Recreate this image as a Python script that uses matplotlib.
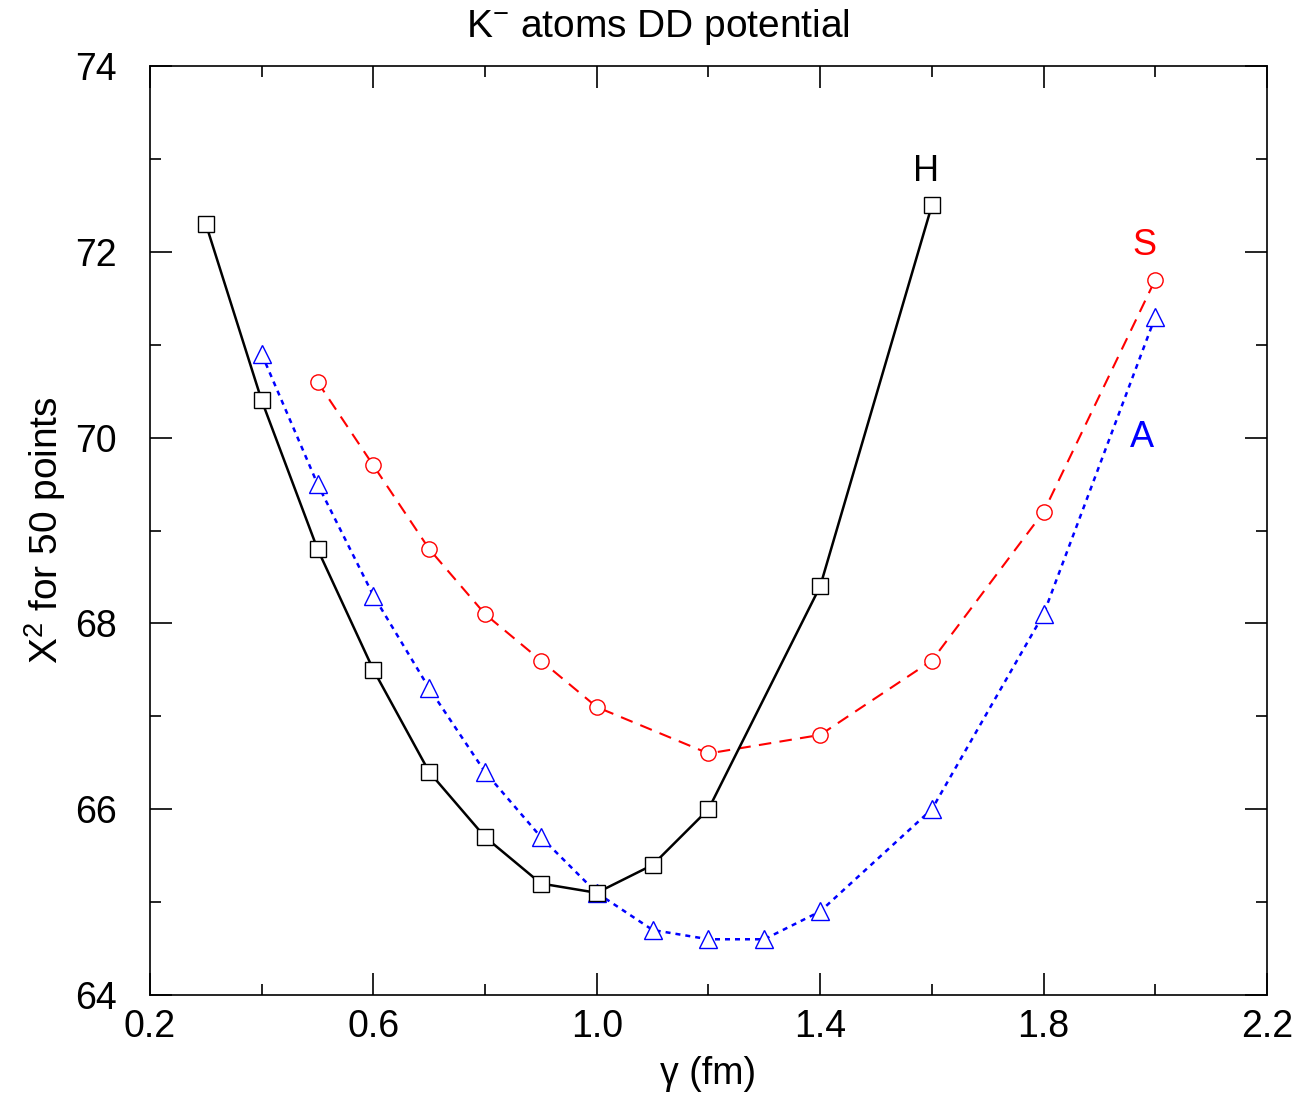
"""K- atoms DD potential: chi^2 versus gamma."""

import matplotlib

matplotlib.use("Agg")
import matplotlib.pyplot as plt
from matplotlib.ticker import FixedLocator, MultipleLocator

plt.rcParams["font.family"] = ["Liberation Sans", "DejaVu Sans"]
plt.rcParams["mathtext.fontset"] = "custom"
plt.rcParams["mathtext.rm"] = "Liberation Sans"
plt.rcParams["mathtext.it"] = "Liberation Sans:italic"

# H (black, solid, squares)
h_x = [0.3, 0.4, 0.5, 0.6, 0.7, 0.8, 0.9, 1.0, 1.1, 1.2, 1.4, 1.6]
h_y = [72.3, 70.4, 68.8, 67.5, 66.4, 65.7, 65.2, 65.1, 65.4, 66.0, 68.4, 72.5]

# S (red, dashed, circles)
s_x = [0.5, 0.6, 0.7, 0.8, 0.9, 1.0, 1.2, 1.4, 1.6, 1.8, 2.0]
s_y = [70.6, 69.7, 68.8, 68.1, 67.6, 67.1, 66.6, 66.8, 67.6, 69.2, 71.7]

# A (blue, dotted, triangles)
a_x = [0.4, 0.5, 0.6, 0.7, 0.8, 0.9, 1.0, 1.1, 1.2, 1.3, 1.4, 1.6, 1.8, 2.0]
a_y = [70.9, 69.5, 68.3, 67.3, 66.4, 65.7, 65.1, 64.7, 64.6, 64.6, 64.9, 66.0, 68.1, 71.3]

x_major = [0.2, 0.6, 1.0, 1.4, 1.8, 2.2]
x_minor = [0.4, 0.8, 1.2, 1.6, 2.0]

fig = plt.figure(figsize=(13.02, 11.1), dpi=100)
ax = fig.add_axes([0.1152, 0.1036, 0.8579, 0.8369])

ax.plot(s_x, s_y, color="red", linestyle=(0, (6, 4)), linewidth=1.5,
        marker="o", markersize=11, markerfacecolor="white",
        markeredgecolor="red", markeredgewidth=1.0)
ax.plot(a_x, a_y, color="blue", linestyle=(0, (2, 2)), linewidth=1.8,
        marker="^", markersize=13, markerfacecolor="white",
        markeredgecolor="blue", markeredgewidth=1.0)
ax.plot(h_x, h_y, color="black", linestyle="-", linewidth=1.8,
        marker="s", markersize=11, markerfacecolor="white",
        markeredgecolor="black", markeredgewidth=1.0)

ax.text(1.59, 72.86, "H", color="black", fontsize=26, ha="center", va="center")
ax.text(1.98, 72.07, "S", color="red", fontsize=26, ha="center", va="center")
ax.text(1.976, 70.0, "A", color="blue", fontsize=26, ha="center", va="center")

ax.set_xlim(0.2, 2.2)
ax.set_ylim(64, 74)
ax.xaxis.set_major_locator(FixedLocator(x_major))
ax.xaxis.set_minor_locator(FixedLocator(x_minor))
ax.yaxis.set_major_locator(MultipleLocator(2))
ax.yaxis.set_minor_locator(MultipleLocator(1))
ax.set_xticklabels([f"{v:.1f}" for v in x_major])
ax.tick_params(which="both", direction="in", top=True, right=True,
               labelsize=27, width=1.2)
ax.tick_params(axis="x", pad=10)
ax.tick_params(axis="y", pad=24)
ax.tick_params(which="major", length=16)
ax.tick_params(which="minor", length=8)
for sp in ax.spines.values():
    sp.set_linewidth(1.2)

ax.set_xlabel("γ (fm)", fontsize=27, labelpad=8)
ax.set_ylabel("X$^{2}$ for 50 points", fontsize=28, labelpad=5)
fig.text(658 / 1302, 1 - 27 / 1110, "K$^{-}$ atoms DD potential",
         fontsize=28, ha="center", va="center")

fig.savefig("out.png", dpi=100)
plt.close(fig)
